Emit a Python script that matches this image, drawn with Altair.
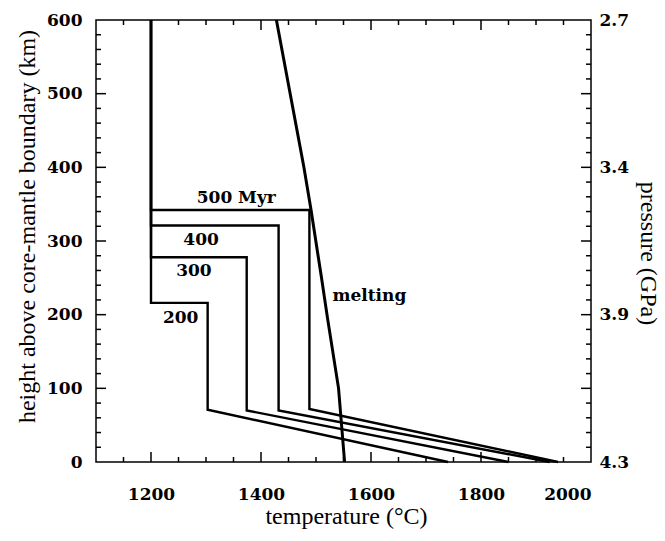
import altair as alt
import pandas as pd

# ---- data ----
# temperature profiles (°C) vs height above CMB (km)
curve_names = ["200", "300", "400", "500"]
curve_T = [
    [1200, 1200, 1303, 1303, 1740],
    [1200, 1200, 1374, 1374, 1850],
    [1200, 1200, 1432, 1432, 1925],
    [1200, 1200, 1488, 1488, 1940],
]
curve_h = [
    [600, 216, 216, 71, 0],
    [600, 278, 278, 70, 0],
    [600, 321, 321, 70, 0],
    [600, 342, 342, 72, 0],
]
melt_T = [1428, 1478, 1491, 1510, 1521, 1541, 1552]
melt_h = [600, 400, 342, 250, 195, 100, 0]

label_text = ["500  Myr", "400", "300", "200"]
label_T = [1355, 1291, 1278, 1254]
label_h = [358, 301, 259, 196]
melt_label = ["melting"]
melt_label_T = [1530]
melt_label_h = [225]

x_label_values = [1200, 1400, 1600, 1800, 2000]
x_major_ticks = [1200, 1400, 1600, 1800]
x_minor_ticks = [1150, 1250, 1300, 1350, 1450, 1500, 1550, 1650, 1700, 1750, 1850, 1900, 1950]
y_label_values = [0, 100, 200, 300, 400, 500, 600]
y_major_ticks = [100, 200, 300, 400, 500]
y_minor_ticks = [h for h in range(20, 600, 20) if h % 100 != 0]
p_heights = [600, 400, 200, 0]
p_labels = ["2.7", "3.4", "3.9", "4.3"]

W, H = 495, 442
SERIF = "Liberation Serif"
BOLD = "DejaVu Serif"

xs = alt.Scale(domain=[1100, 2000], nice=False, zero=False)
ys = alt.Scale(domain=[0, 600], nice=False, zero=False)

rows = []
for name, Ts, hs in zip(curve_names, curve_T, curve_h):
    for i, (t, h) in enumerate(zip(Ts, hs)):
        rows.append({"curve": name, "T": t, "h": h, "i": i})
curves_df = pd.DataFrame(rows)
melt_df = pd.DataFrame({"T": melt_T, "h": melt_h, "i": range(len(melt_T))})
labels_df = pd.DataFrame({"T": label_T, "h": label_h, "text": label_text})
mlab_df = pd.DataFrame({"T": melt_label_T, "h": melt_label_h, "text": melt_label})

left_axis = alt.Axis(values=y_label_values, title="height above core-mantle boundary (km)",
                     orient="left", tickSize=0, domain=False, grid=False,
                     labelFont=BOLD, labelFontWeight="bold", labelFontSize=17, labelColor="black",
                     labelPadding=14, titleFont=SERIF, titleFontSize=24, titleFontWeight="normal",
                     titleColor="black", titleX=-69, titleY=206, titleAlign="center",
                     titleBaseline="middle", titleAngle=270)
bottom_axis = alt.Axis(values=x_label_values, title="temperature (°C)", orient="bottom",
                       tickSize=0, domain=False, grid=False, format="d",
                       labelFont=BOLD, labelFontWeight="bold", labelFontSize=17, labelColor="black",
                       labelPadding=24, titleFont=SERIF, titleFontSize=24, titleFontWeight="normal",
                       titleColor="black", titleX=250, titleY=54, titleAlign="center",
                       titleBaseline="middle")
label_expr = " : ".join(f"datum.value == {h} ? '{p}'" for h, p in zip(p_heights, p_labels)) + " : ''"
right_axis = alt.Axis(values=p_heights, title="pressure (GPa)", orient="right", tickSize=0,
                      domain=False, grid=False, labelExpr=label_expr,
                      labelFont=BOLD, labelFontWeight="bold", labelFontSize=17, labelColor="black",
                      labelPadding=8, titleFont=SERIF, titleFontSize=24, titleFontWeight="normal",
                      titleColor="black", titleX=56, titleY=233, titleAlign="center",
                      titleBaseline="middle", titleAngle=90)

curves = alt.Chart(curves_df).mark_line(color="black", strokeWidth=2.4, strokeJoin="miter").encode(
    x=alt.X("T:Q", scale=xs, axis=bottom_axis),
    y=alt.Y("h:Q", scale=ys, axis=left_axis),
    detail="curve:N",
    order="i:Q",
)
melt = alt.Chart(melt_df).mark_line(color="black", strokeWidth=3).encode(
    x=alt.X("T:Q", scale=xs, axis=None),
    y=alt.Y("h:Q", scale=ys, axis=right_axis),
    order="i:Q",
)
labels = alt.Chart(labels_df).mark_text(font=BOLD, fontWeight="bold", fontSize=17,
                                        align="center", baseline="middle", color="black").encode(
    x=alt.X("T:Q", scale=xs, axis=None),
    y=alt.Y("h:Q", scale=ys, axis=None),
    text="text:N",
)
mlab = alt.Chart(mlab_df).mark_text(font=BOLD, fontWeight="bold", fontSize=17,
                                    align="left", baseline="middle", color="black").encode(
    x=alt.X("T:Q", scale=xs, axis=None),
    y=alt.Y("h:Q", scale=ys, axis=None),
    text="text:N",
)

def xticks(values, length):
    df = pd.DataFrame({"T": values})
    bottom = alt.Chart(df).mark_rule(color="black", strokeWidth=1.5).encode(
        x=alt.X("T:Q", scale=xs, axis=None), y=alt.value(H), y2=alt.value(H - length))
    top = alt.Chart(df).mark_rule(color="black", strokeWidth=1.5).encode(
        x=alt.X("T:Q", scale=xs, axis=None), y=alt.value(0), y2=alt.value(length))
    return [bottom, top]

def yticks(values, length):
    df = pd.DataFrame({"h": values})
    left = alt.Chart(df).mark_rule(color="black", strokeWidth=1.5).encode(
        y=alt.Y("h:Q", scale=ys, axis=None), x=alt.value(0), x2=alt.value(length))
    right = alt.Chart(df).mark_rule(color="black", strokeWidth=1.5).encode(
        y=alt.Y("h:Q", scale=ys, axis=None), x=alt.value(W), x2=alt.value(W - length))
    return [left, right]

tick_layers = xticks(x_major_ticks, 10) + xticks(x_minor_ticks, 5) + \
    yticks(y_major_ticks, 10) + yticks(y_minor_ticks, 5)

chart = alt.layer(curves, melt, labels, mlab, *tick_layers).resolve_axis(
    x="independent", y="independent").properties(
    width=W, height=H,
    autosize=alt.AutoSizeParams(type="none"),
    padding={"left": 96, "top": 20, "right": 665 - 96 - W, "bottom": 541 - 20 - H},
    background="white",
).configure_view(stroke="black", strokeWidth=1.5)

chart.save("out.html", embed_options={"renderer": "svg", "actions": False})
